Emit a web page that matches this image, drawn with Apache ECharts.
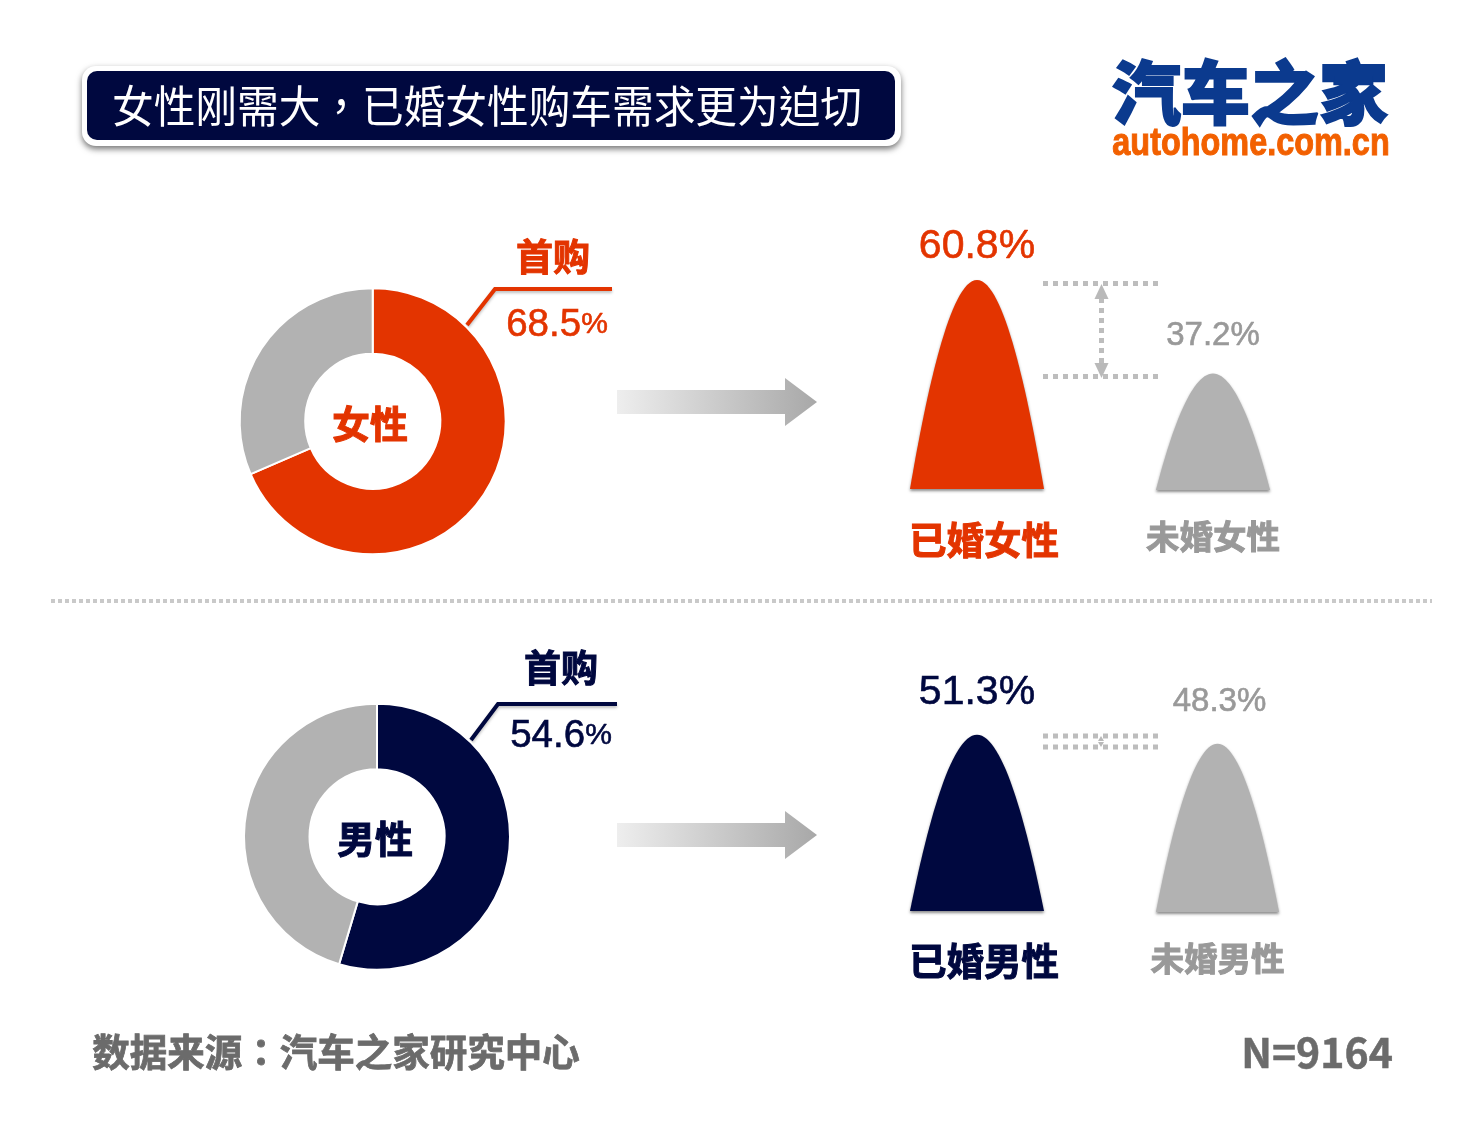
<!DOCTYPE html>
<html>
<head>
<meta charset="utf-8">
<title>女性刚需大</title>
<script src="https://cdn.jsdelivr.net/npm/echarts@6/dist/echarts.min.js"></script>
<style>
  html, body { margin: 0; padding: 0; background: #fff; }
  #main { width: 1475px; height: 1131px; }
</style>
</head>
<body>
<div id="main"></div>
<script>
// 数据
const titleText = '女性刚需大，已婚女性购车需求更为迫切'
const sourceText = '数据来源：汽车之家研究中心'
const sampleText = 'N=9164'

const pieNames = ['首购', '非首购']
const femaleFirstBuy = [68.5, 31.5]
const maleFirstBuy = [54.6, 45.4]

const hillNames = ['已婚女性', '未婚女性', '已婚男性', '未婚男性']
const hillValues = [60.8, 37.2, 51.3, 48.3]
// 原图的形状并不完全按比例，未婚女性单独一个刻度
const hillAxisMax = [64, 70.3, 64, 63.2]

const ORANGE = '#e33400'
const NAVY = '#00083f'
const GREY = '#b2b2b2'
const TEXT_GREY = '#999999'
const CJK = '"Noto Sans CJK SC", sans-serif'
const CJK_TC = '"Noto Sans CJK TC", sans-serif' // 逗号、冒号居中
const LATIN = '"Liberation Sans", Arial, sans-serif'

// 山形符号
const HILL_PATH = 'path://M0,100 C12,55 30,0 50,0 C70,0 88,55 100,100 Z'

const hillBoxes = [
  { left: 910, width: 134, bottom: 489, color: ORANGE, labelColor: ORANGE, size: 41, gap: 13, dx: 0, nameSize: 37.5, nameColor: ORANGE, pad: 14, margin: 32 },
  { left: 1156, width: 114, bottom: 490, color: GREY, labelColor: TEXT_GREY, size: 33, gap: 21, dx: 0, nameSize: 33.5, nameColor: TEXT_GREY, pad: 0, margin: 30 },
  { left: 910, width: 134, bottom: 911, color: NAVY, labelColor: NAVY, size: 41, gap: 21, dx: 0, nameSize: 37.5, nameColor: NAVY, pad: 14, margin: 31 },
  { left: 1156, width: 123, bottom: 912, color: GREY, labelColor: TEXT_GREY, size: 33, gap: 25, dx: 2, nameSize: 33.5, nameColor: TEXT_GREY, pad: 0, margin: 30 }
]

const GRID_H = 220

const grids = hillBoxes.map(b => ({
  left: b.left,
  width: b.width,
  top: b.bottom - GRID_H,
  height: GRID_H
}))

const xAxes = hillNames.map((name, i) => ({
  type: 'category',
  gridIndex: i,
  data: [name],
  axisLine: { show: false },
  axisTick: { show: false },
  axisLabel: {
    interval: 0,
    margin: hillBoxes[i].margin,
    padding: [0, 0, 0, hillBoxes[i].pad],
    fontFamily: CJK,
    fontWeight: 'bold',
    fontSize: hillBoxes[i].nameSize,
    color: hillBoxes[i].nameColor,
    textBorderColor: hillBoxes[i].nameColor,
    textBorderWidth: 1
  }
}))

const yAxes = hillAxisMax.map((max, i) => ({
  type: 'value',
  gridIndex: i,
  min: 0,
  max: max,
  show: false
}))

const hillSeries = hillValues.map((v, i) => ({
  type: 'pictorialBar',
  xAxisIndex: i,
  yAxisIndex: i,
  symbol: HILL_PATH,
  symbolSize: [hillBoxes[i].width, '100%'],
  data: [v],
  silent: true,
  itemStyle: {
    color: hillBoxes[i].color,
    shadowColor: 'rgba(0,0,0,0.45)',
    shadowBlur: 3,
    shadowOffsetY: 2
  },
  label: {
    show: true,
    position: 'top',
    distance: hillBoxes[i].gap,
    offset: [hillBoxes[i].dx, 0],
    formatter: p => p.value.toFixed(1) + '%',
    fontFamily: LATIN,
    fontSize: hillBoxes[i].size,
    color: hillBoxes[i].labelColor,
    textBorderColor: hillBoxes[i].labelColor,
    textBorderWidth: 0.6
  }
}))

function donut(values, center, color) {
  return {
    type: 'pie',
    center: center,
    radius: [67.5, 133],
    startAngle: 90,
    clockwise: true,
    silent: true,
    label: { show: false },
    labelLine: { show: false },
    itemStyle: { borderColor: '#fff', borderWidth: 2 },
    data: pieNames.map((name, i) => ({
      name: name,
      value: values[i],
      itemStyle: { color: i === 0 ? color : GREY }
    }))
  }
}

// 文字
function txt(text, x, y, size, fill, weight, family, extra, strokeWidth) {
  const el = Object.assign({
    type: 'text',
    x: x,
    y: y,
    z: 10,
    silent: true,
    style: {
      text: text,
      fill: fill,
      fontSize: size,
      fontWeight: weight || 'normal',
      fontFamily: family || CJK,
      align: 'center',
      verticalAlign: 'middle'
    }
  }, extra || {})
  if (strokeWidth) {
    el.style.stroke = fill
    el.style.lineWidth = strokeWidth
  }
  return el
}

function dotted(x1, y1, x2, y2, w, dash, color) {
  return {
    type: 'line',
    silent: true,
    shape: { x1, y1, x2, y2 },
    style: { stroke: color || '#bdbdbd', lineWidth: w, lineDash: dash }
  }
}

function arrow(cy) {
  return {
    type: 'polygon',
    silent: true,
    shape: {
      points: [[617, cy - 12], [785, cy - 12], [785, cy - 24], [817, cy], [785, cy + 24], [785, cy + 12], [617, cy + 12]]
    },
    style: {
      fill: new echarts.graphic.LinearGradient(0, 0, 1, 0, [
        { offset: 0, color: '#eeeeee' },
        { offset: 1, color: '#a8a8a8' }
      ])
    }
  }
}

function leader(points, color) {
  return {
    type: 'polyline',
    silent: true,
    shape: { points: points },
    style: {
      stroke: color,
      lineWidth: 4,
      fill: null,
      shadowColor: 'rgba(0,0,0,0.25)',
      shadowBlur: 3,
      shadowOffsetY: 2
    }
  }
}

function pct(v, x, y, color) {
  const rich = size => ({
    fontFamily: LATIN,
    fontSize: size,
    fill: color,
    stroke: color,
    lineWidth: 0.6
  })
  return {
    type: 'text',
    x: x,
    y: y,
    z: 10,
    silent: true,
    style: {
      text: '{a|' + v.toFixed(1) + '}{b|%}',
      align: 'center',
      verticalAlign: 'middle',
      rich: { a: rich(38.5), b: rich(30) }
    }
  }
}

function arrowHead(x, y, dir, w, h) {
  return {
    type: 'polygon',
    silent: true,
    shape: { points: [[x - w, y], [x + w, y], [x, y + dir * h]] },
    style: { fill: '#b9b9b9' }
  }
}

const graphics = [
  // 标题
  {
    type: 'rect',
    silent: true,
    shape: { x: 82, y: 66, width: 819, height: 80, r: 14 },
    style: { fill: '#fff', shadowColor: 'rgba(0,0,0,0.55)', shadowBlur: 6, shadowOffsetY: 3 }
  },
  {
    type: 'rect',
    silent: true,
    shape: { x: 87, y: 71, width: 808, height: 69, r: 10 },
    style: { fill: NAVY }
  },
  txt(titleText, 487, 106, 44, '#fff', 'normal', CJK_TC, { scaleX: 0.947 }),

  // logo
  txt('汽车之家', 1250, 93, 69, '#0b3a8e', 900, CJK, null, 1.8),
  txt('autohome.com.cn', 1251, 145, 38, '#f26000', 'bold', LATIN, { scaleX: 0.853 }, 1),

  // 分隔线
  dotted(51, 601, 1432, 601, 4, [4, 3], '#c9c9c9'),

  // 女性
  leader([[467, 325], [495, 289], [612, 289]], ORANGE),
  txt(pieNames[0], 553, 257, 37, ORANGE, 'bold', CJK, null, 1),
  pct(femaleFirstBuy[0], 557, 325, ORANGE),
  txt('女性', 370, 424, 38, ORANGE, 'bold', CJK, null, 1),
  arrow(402),
  dotted(1043, 283.5, 1158, 283.5, 5, [5, 5]),
  dotted(1043, 376.5, 1158, 376.5, 5, [5, 5]),
  dotted(1101.5, 298, 1101.5, 366, 5, [5, 5]),
  arrowHead(1101.5, 299, -1, 7, 15),
  arrowHead(1101.5, 363, 1, 7, 15),

  // 男性
  leader([[471, 740], [498, 704], [617, 704]], NAVY),
  txt(pieNames[0], 561, 668, 37, NAVY, 'bold', CJK, null, 1),
  pct(maleFirstBuy[0], 561, 736, NAVY),
  txt('男性', 375, 839, 38, NAVY, 'bold', CJK, null, 1),
  arrow(835),
  dotted(1043, 736, 1158, 736, 5, [5, 5]),
  dotted(1043, 747, 1158, 747, 5, [5, 5]),
  arrowHead(1101, 741, -1, 3, 5),
  arrowHead(1101, 742, 1, 3, 5),

  // 底部
  txt(sourceText, 336, 1052, 37.5, '#6b6b6b', 'bold', CJK_TC, null, 0.8),
  txt(sampleText, 1317, 1052, 41, '#6b6b6b', 'bold', CJK, null, 0.5)
]

const myChart = echarts.init(document.getElementById('main'), null, { renderer: 'canvas' })
myChart.setOption({
  backgroundColor: '#fff',
  animation: false,
  grid: grids,
  xAxis: xAxes,
  yAxis: yAxes,
  series: [
    donut(femaleFirstBuy, [372.7, 421.3], ORANGE),
    donut(maleFirstBuy, [377, 836.7], NAVY)
  ].concat(hillSeries),
  graphic: graphics
})
</script>
</body>
</html>
